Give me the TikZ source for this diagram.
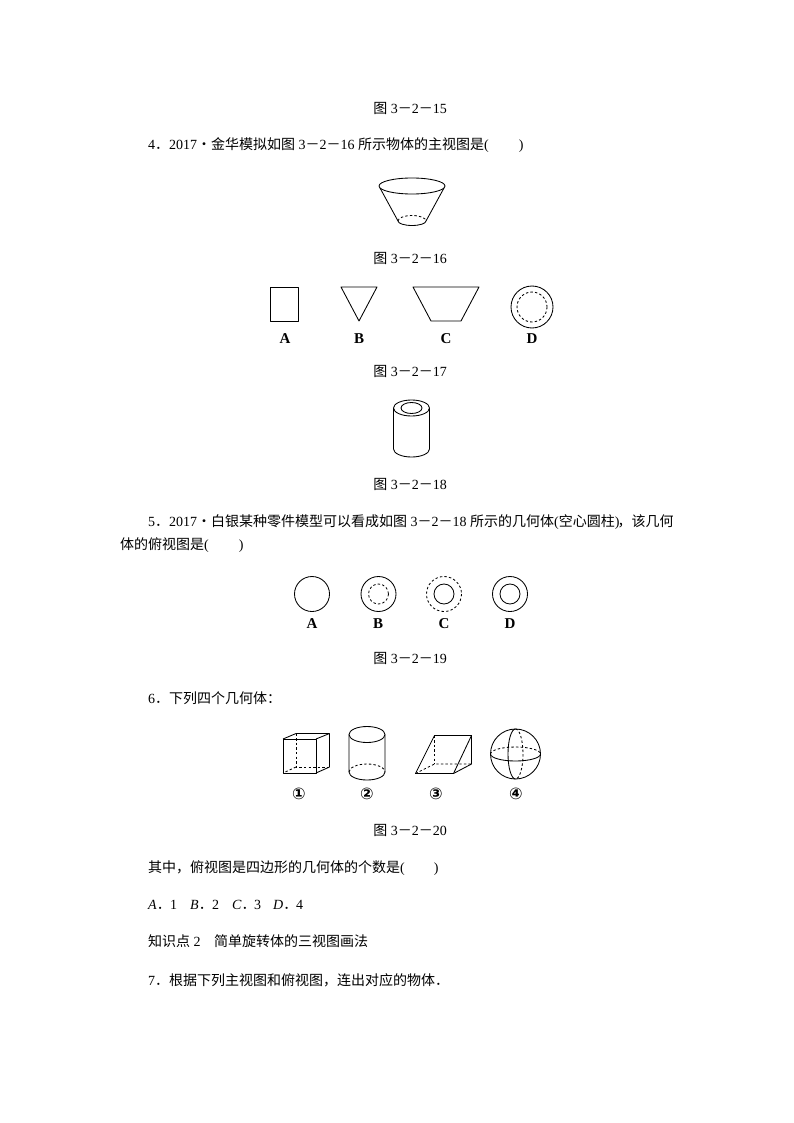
\documentclass[tikz,border=0pt]{standalone}
\usepackage{fontspec}
\setmainfont{Liberation Serif}
\newfontfamily\zh{Noto Sans CJK SC}
\newfontfamily\sym{DejaVu Sans}
\newcommand\dd{{\zh －}}
\newcommand\fignum[1]{{\zh 图}\kern3.5pt 3\dd 2\dd #1}
\newcommand\ansbox[2]{\makebox[#1][l]{#2}}
\tikzset{
  shape line/.style={draw=black,line width=0.85pt,line join=round},
  hidden line/.style={draw=black,line width=0.85pt,dash pattern=on 2.4pt off 2.2pt},
  body text/.style={anchor=base west,inner sep=0pt,font=\fontsize{14pt}{14pt}\selectfont},
  caption text/.style={anchor=base,inner sep=0pt,font=\fontsize{14pt}{14pt}\selectfont},
  option label/.style={anchor=base,inner sep=0pt,font=\fontsize{15pt}{15pt}\selectfont\bfseries},
  number label/.style={anchor=base,inner sep=0pt,font=\fontsize{16pt}{16pt}\selectfont\sym\bfseries}
}
\begin{document}
\begin{tikzpicture}[x=1pt,y=-1pt]
\useasboundingbox (0,0) rectangle (794,1123);
\fill[white] (0,0) rectangle (794,1123);
% captions
\node[caption text] (c15) at (410,114) {\fignum{15}};
\node[caption text] (c16) at (410,263) {\fignum{16}};
\node[caption text] (c17) at (410,376) {\fignum{17}};
\node[caption text] (c18) at (410,489) {\fignum{18}};
\node[caption text] (c19) at (410,663) {\fignum{19}};
\node[caption text] (c20) at (410,835) {\fignum{20}};
% body text
\node[body text] (q4) at (148,150) {4{\zh ．}2017{\zh ·金华模拟如图}\kern3.5pt 3\dd 2\dd 16\kern3.5pt{\zh 所示物体的主视图是}(\kern30pt)};
\node[body text] (q5a) at (148,526) {5{\zh ．}2017{\zh ·白银某种零件模型可以看成如图}\kern3.5pt 3\dd 2\dd 18\kern3.5pt{\zh 所示的几何体}(\kern0pt{\zh 空心圆柱})\kern-2pt{\zh ，该几何}};
\node[body text] (q5b) at (120,549) {{\zh 体的俯视图是}(\kern30pt)};
\node[body text] (q6) at (148,703) {6{\zh ．下列四个几何体：}};
\node[body text] (q6a) at (148,872) {{\zh 其中，俯视图是四边形的几何体的个数是}(\kern29pt)};
\node[body text] (q6b) at (148,909) {\ansbox{22pt}{\textit{A}{\zh ．}}\ansbox{20pt}{1}\ansbox{22pt}{\textit{B}{\zh ．}}\ansbox{20pt}{2}\ansbox{22pt}{\textit{C}{\zh ．}}\ansbox{19pt}{3}\ansbox{23pt}{\textit{D}{\zh ．}}4};
\node[body text] (k2) at (148,946) {{\zh 知识点}\kern3.5pt 2\kern13.5pt{\zh 简单旋转体的三视图画法}};
\node[body text] (q7) at (148,985) {7{\zh ．根据下列主视图和俯视图，连出对应的物体．}};
% frustum fig 16
\draw[shape line] (412,186) ellipse [x radius=33,y radius=8];
\draw[shape line] (380,188) -- (398,221);
\draw[shape line] (444,188) -- (426,221);
\draw[shape line] (398,221) arc[start angle=180,end angle=0,x radius=14,y radius=4.5];
\draw[hidden line] (398,221) arc[start angle=180,end angle=360,x radius=14,y radius=5.5];
% fig 17
\draw[shape line] (270,287) rectangle (298,321);
\draw[shape line] (341,287) -- (377,287) -- (359,321) -- cycle;
\draw[shape line] (413,287) -- (479,287) -- (461,321) -- (431,321) -- cycle;
\draw[shape line] (532,307) circle [radius=21];
\draw[hidden line] (532,307) circle [radius=15];
\node[option label] (a17) at (285,343) {A};
\node[option label] (b17) at (359,343) {B};
\node[option label] (c17l) at (446,343) {C};
\node[option label] (d17) at (532,343) {D};
% hollow cylinder fig 18
\draw[shape line] (411.5,408) ellipse [x radius=18,y radius=8];
\draw[shape line] (411.5,408) ellipse [x radius=10.5,y radius=5.5];
\draw[shape line] (393.5,408) -- (393.5,449) arc[start angle=180,end angle=0,x radius=18,y radius=8] -- (429.5,408);
% fig 19
\draw[shape line] (312,594) circle [radius=17.5];
\draw[shape line] (378.5,594) circle [radius=17.5];
\draw[hidden line] (378.5,594) circle [radius=10];
\draw[hidden line] (444,594) circle [radius=17.5];
\draw[shape line] (444,594) circle [radius=10];
\draw[shape line] (510,594) circle [radius=17.5];
\draw[shape line] (510,594) circle [radius=10];
\node[option label] (a19) at (312,628) {A};
\node[option label] (b19) at (378,628) {B};
\node[option label] (c19) at (444,628) {C};
\node[option label] (d19) at (510,628) {D};
% cube
\draw[shape line] (283,739) rectangle (316,773);
\draw[shape line] (283,739) -- (296,733.5) -- (329.5,733.5) -- (316,739);
\draw[shape line] (329.5,733.5) -- (329.5,767) -- (316,773);
\draw[hidden line] (296,733.5) -- (296,767) -- (329.5,767);
\draw[hidden line] (296,767) -- (283,773);
% cylinder
\draw[shape line] (367,734.5) ellipse [x radius=18,y radius=8];
\draw[shape line] (349,734.5) -- (349,772) arc[start angle=180,end angle=0,x radius=18,y radius=8] -- (385,734.5);
\draw[hidden line] (349,772) arc[start angle=180,end angle=360,x radius=18,y radius=8];
% prism
\draw[shape line] (415.5,773.5) -- (453.5,773.5) -- (471.5,735.5) -- (434.5,735.5) -- cycle;
\draw[shape line] (471.5,735.5) -- (471.5,764) -- (453.5,773.5);
\draw[hidden line] (415.5,773.5) -- (434.5,764) -- (471.5,764);
\draw[hidden line] (434.5,735.5) -- (434.5,764);
% sphere
\draw[shape line] (515.5,754) circle [radius=25];
\draw[shape line] (490.5,754) arc[start angle=180,end angle=0,x radius=25,y radius=7];
\draw[hidden line] (490.5,754) arc[start angle=180,end angle=360,x radius=25,y radius=7];
\draw[shape line] (515.5,729) arc[start angle=270,end angle=90,x radius=7.5,y radius=25];
\draw[hidden line] (515.5,729) arc[start angle=270,end angle=450,x radius=7.5,y radius=25];
\node[number label] (n1) at (299,799) {①};
\node[number label] (n2) at (367,799) {②};
\node[number label] (n3) at (436,799) {③};
\node[number label] (n4) at (516,799) {④};
\end{tikzpicture}
\end{document}
